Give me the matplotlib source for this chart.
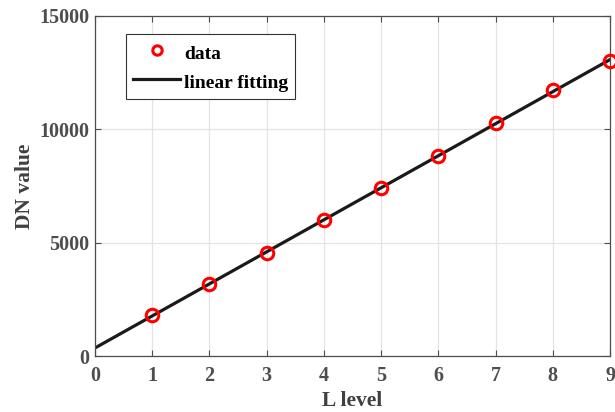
import numpy as np
import matplotlib
matplotlib.use('Agg')
import matplotlib.pyplot as plt

# data
l_level = [1, 2, 3, 4, 5, 6, 7, 8, 9]
dn_value = [1809, 3176, 4544, 6000, 7412, 8824, 10280, 11735, 13015]

# linear fit of the data
coef = np.polyfit(l_level, dn_value, 1)
x_fit = np.array([0, 9])
y_fit = np.polyval(coef, x_fit)

plt.rcParams['font.family'] = 'Liberation Serif'
plt.rcParams['font.weight'] = 'bold'

fig = plt.figure(figsize=(6.15, 4.12), dpi=100)
ax = fig.add_axes([0.1545, 0.1359, 0.8374, 0.8253])

ax.plot(l_level, dn_value, 'o', color='red', markerfacecolor='none',
        markersize=9, markeredgewidth=2.2, label='data', zorder=3, clip_on=False)
ax.plot(x_fit, y_fit, '-', color='#1a1a1a', linewidth=2.3, label='linear fitting', zorder=2)

ax.set_xlim(0, 9)
ax.set_ylim(0, 15000)
ax.set_xticks(range(0, 10))
ax.set_yticks([0, 5000, 10000, 15000])
ax.grid(True, color='#e3e3e3', linewidth=0.9)
ax.set_axisbelow(True)

ax.tick_params(direction='in', top=True, right=True, length=4, width=0.8,
               colors='#4d4d4d', labelsize=14.5)
ax.tick_params(axis='x', pad=7)
ax.tick_params(axis='y', pad=4)
for lab in ax.get_xticklabels() + ax.get_yticklabels():
    lab.set_fontweight('bold')
for s in ax.spines.values():
    s.set_color('#4d4d4d')
    s.set_linewidth(0.9)

ax.set_xlabel('L level', fontsize=15.5, fontweight='bold', color='#404040', labelpad=4)
ax.set_ylabel('DN value', fontsize=15.5, fontweight='bold', color='#404040', labelpad=3)

leg = ax.legend(loc='upper left', bbox_to_anchor=(0.060, 0.947), fontsize=14,
                handlelength=2.45, handleheight=1.4, handletextpad=0.2,
                borderpad=0.35, labelspacing=0.35, borderaxespad=0, markerscale=0.75,
                fancybox=False, edgecolor='#333333', framealpha=1)
leg.get_frame().set_linewidth(0.8)
for t in leg.get_texts():
    t.set_fontweight('bold')

fig.savefig('out.png', dpi=100)
